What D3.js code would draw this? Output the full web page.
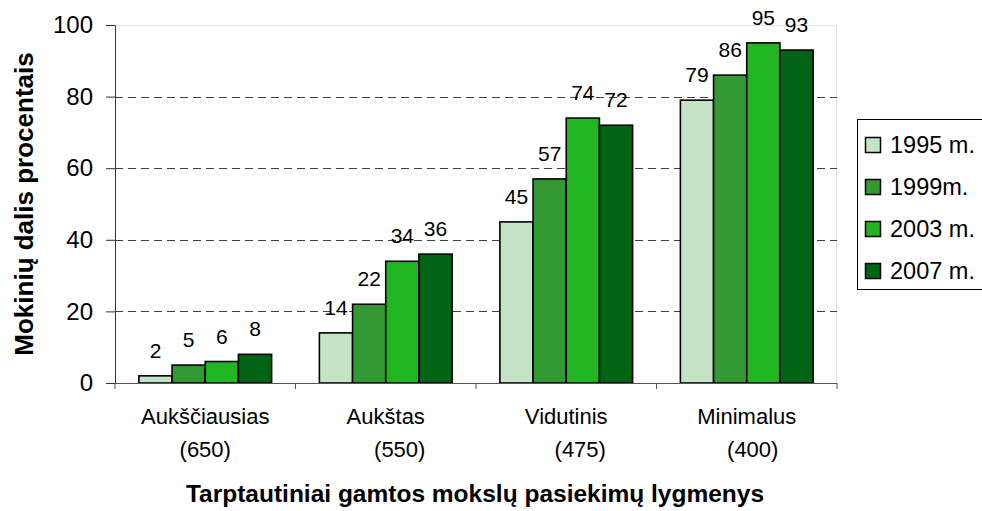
<!DOCTYPE html>
<html>
<head>
<meta charset="utf-8">
<script src="https://cdn.jsdelivr.net/npm/d3@7"></script>
<style>
  body { margin: 0; background: #fff; overflow: hidden; }
  text { font-family: Arial, "Liberation Sans", sans-serif; fill: #000; }
</style>
</head>
<body>
<div id="wrapper"></div>
<script>
// data
const categories = ["Aukščiausias (650)", "Aukštas (550)", "Vidutinis (475)", "Minimalus (400)"];
const categoryLines = [
  ["Aukščiausias", "(650)"],
  ["Aukštas", "(550)"],
  ["Vidutinis", "(475)"],
  ["Minimalus", "(400)"],
];
const seriesNames = ["1995 m.", "1999m.", "2003 m.", "2007 m."];
const values1995 = [2, 14, 45, 79];
const values1999 = [5, 22, 57, 86];
const values2003 = [6, 34, 74, 95];
const values2007 = [8, 36, 72, 93];
const yTicks = [0, 20, 40, 60, 80, 100];
const seriesColors = ["#c5e3c5", "#339933", "#21b521", "#006414"];

const seriesValues = [values1995, values1999, values2003, values2007];

function drawChart() {
  const dimensions = {
    width: 982,
    height: 511,
    margin: { top: 25, right: 145, bottom: 128, left: 115 },
  };
  dimensions.boundedWidth = dimensions.width - dimensions.margin.left - dimensions.margin.right;
  dimensions.boundedHeight = dimensions.height - dimensions.margin.top - dimensions.margin.bottom;

  const svg = d3.select("#wrapper")
    .append("svg")
    .attr("width", dimensions.width)
    .attr("height", dimensions.height)
    .style("display", "block");

  svg.append("rect")
    .attr("width", dimensions.width)
    .attr("height", dimensions.height)
    .attr("fill", "#fff");

  const bounds = svg.append("g")
    .attr("transform", `translate(${dimensions.margin.left},${dimensions.margin.top})`);

  // scales
  const x0 = d3.scaleBand()
    .domain(categories)
    .range([0, dimensions.boundedWidth]);

  const x1 = d3.scaleBand()
    .domain(seriesNames)
    .range([0, x0.bandwidth()])
    .paddingInner(0)
    .paddingOuter(0.72);

  const y = d3.scaleLinear()
    .domain([0, 100])
    .range([dimensions.boundedHeight, 0]);

  // plot frame (light)
  bounds.append("path")
    .attr("d", `M0,0.5H${dimensions.boundedWidth - 0.5}V${dimensions.boundedHeight}`)
    .attr("fill", "none")
    .attr("stroke", "#e4e4e4")
    .attr("stroke-width", 1);

  // gridlines
  bounds.append("g")
    .selectAll("line")
    .data(yTicks.filter((d) => d > 0 && d < 100))
    .join("line")
    .attr("x1", 0)
    .attr("x2", dimensions.boundedWidth)
    .attr("y1", (d) => Math.round(y(d)) + 0.5)
    .attr("y2", (d) => Math.round(y(d)) + 0.5)
    .attr("stroke", "#404040")
    .attr("stroke-dasharray", "8,5");

  // bars
  const groups = bounds.append("g")
    .selectAll("g")
    .data(categories)
    .join("g")
    .attr("transform", (d) => `translate(${x0(d)},0)`);

  const barData = (c, i) => seriesNames.map((s, j) => ({ series: s, value: seriesValues[j][i], color: seriesColors[j] }));

  groups.selectAll("rect")
    .data(barData)
    .join("rect")
    .attr("x", (d) => x1(d.series))
    .attr("width", x1.bandwidth())
    .attr("y", (d) => y(d.value))
    .attr("height", (d) => dimensions.boundedHeight - y(d.value))
    .attr("fill", (d) => d.color)
    .attr("stroke", "#000")
    .attr("stroke-width", 1.6);

  groups.selectAll("text.value")
    .data(barData)
    .join("text")
    .attr("class", "value")
    .attr("x", (d) => x1(d.series) + x1.bandwidth() / 2)
    .attr("y", (d) => y(d.value) - 18)
    .attr("text-anchor", "middle")
    .style("font-size", "21px")
    .text((d) => d.value);

  // y axis
  const yAxisGenerator = d3.axisLeft(y)
    .tickValues(yTicks)
    .tickSize(9)
    .tickPadding(13)
    .tickFormat(d3.format("d"));

  const yAxis = bounds.append("g").call(yAxisGenerator);
  yAxis.select(".domain").attr("stroke", "#333");
  yAxis.selectAll(".tick line").attr("stroke", "#333");
  yAxis.selectAll(".tick text")
    .style("font-size", "24px")
    .attr("fill", "#000");

  // x axis
  const xAxisGenerator = d3.axisBottom(x0)
    .tickSize(0)
    .tickFormat("");
  const xAxis = bounds.append("g")
    .attr("transform", `translate(0,${dimensions.boundedHeight})`)
    .call(xAxisGenerator);
  xAxis.select(".domain").attr("stroke", "#555").attr("d", `M0,0.5H${dimensions.boundedWidth}`);

  // category separators
  const boundaries = categories.map((c) => x0(c)).concat([dimensions.boundedWidth]);
  xAxis.selectAll("line.sep")
    .data(boundaries)
    .join("line")
    .attr("class", "sep")
    .attr("x1", (d) => d)
    .attr("x2", (d) => d)
    .attr("y1", 0)
    .attr("y2", 6)
    .attr("stroke", "#555");

  // category labels (two lines, second line slightly nudged like the original)
  const secondLineNudge = [0, 14, 14, 6];
  const catLabels = xAxis.selectAll("text.cat")
    .data(categories)
    .join("text")
    .attr("class", "cat")
    .attr("text-anchor", "middle")
    .style("font-size", "22px");
  catLabels.append("tspan")
    .attr("x", (d) => x0(d) + x0.bandwidth() / 2)
    .attr("y", 41)
    .text((d, i) => categoryLines[i][0]);
  catLabels.append("tspan")
    .attr("x", (d, i) => x0(d) + x0.bandwidth() / 2 + secondLineNudge[i])
    .attr("y", 74)
    .text((d, i) => categoryLines[i][1]);

  // axis titles
  svg.append("text")
    .attr("x", dimensions.margin.left + dimensions.boundedWidth / 2 - 1)
    .attr("y", 502)
    .attr("text-anchor", "middle")
    .style("font-size", "24.5px")
    .style("font-weight", "bold")
    .text("Tarptautiniai gamtos mokslų pasiekimų lygmenys");

  svg.append("text")
    .attr("transform", `translate(33,${dimensions.margin.top + dimensions.boundedHeight / 2}) rotate(-90)`)
    .attr("text-anchor", "middle")
    .style("font-size", "26px")
    .style("font-weight", "bold")
    .text("Mokinių dalis procentais");

  // legend (runs past the right edge, as in the original)
  const legend = svg.append("g").attr("transform", "translate(857,119)");
  legend.append("rect")
    .attr("x", 0.5)
    .attr("y", 0.5)
    .attr("width", 170)
    .attr("height", 170)
    .attr("fill", "#fff")
    .attr("stroke", "#000");

  const items = legend.selectAll("g.item")
    .data(seriesNames)
    .join("g")
    .attr("class", "item")
    .attr("transform", (d, i) => `translate(0,${26 + i * 42})`);
  items.append("rect")
    .attr("x", 8.5)
    .attr("y", -7.5)
    .attr("width", 15)
    .attr("height", 15)
    .attr("fill", (d, i) => seriesColors[i])
    .attr("stroke", "#000")
    .attr("stroke-width", 1.5);
  items.append("text")
    .attr("x", 33)
    .attr("y", 0)
    .attr("dy", "0.35em")
    .style("font-size", "23.5px")
    .text((d) => d);
}

drawChart();
</script>
</body>
</html>
